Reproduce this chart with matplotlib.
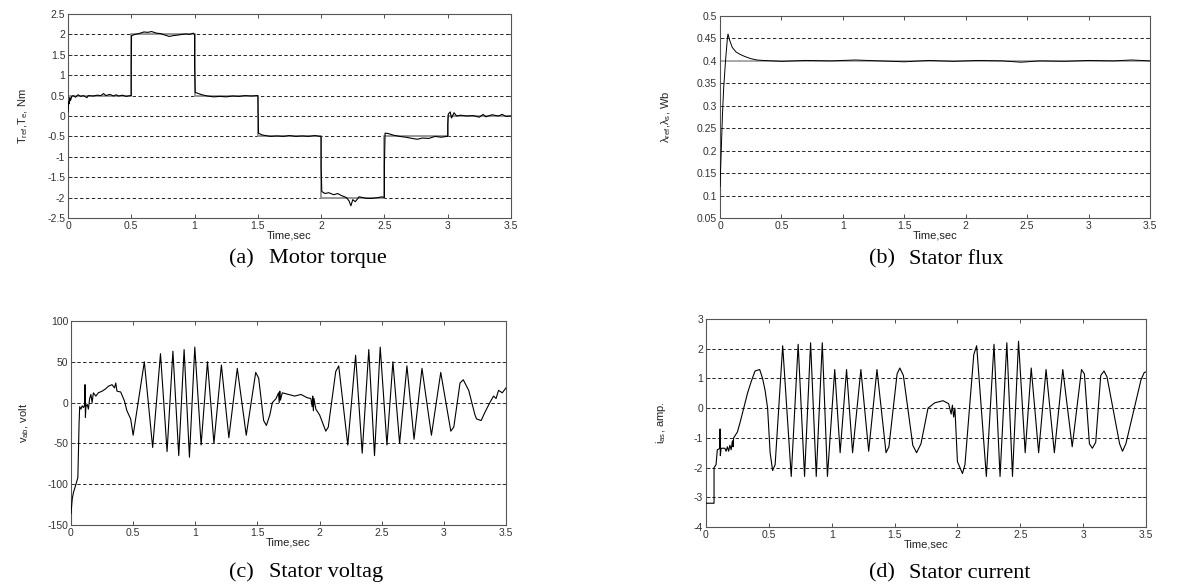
import numpy as np
import matplotlib.pyplot as plt
import matplotlib.transforms as mtransforms

plt.rcParams['font.family'] = ['Liberation Sans', 'DejaVu Sans']
plt.rcParams['mathtext.default'] = 'regular'

# (a) motor torque
t_tref = [0, 0.5, 0.5, 1.0, 1.0, 1.5, 1.5, 2.0, 2.0, 2.5, 2.5, 3.0, 3.0, 3.5]
tref = [0.5, 0.5, 2.0, 2.0, 0.5, 0.5, -0.5, -0.5, -2.0, -2.0, -0.5, -0.5, 0.0, 0.0]
t_te = [0, 0.005, 0.01, 0.015, 0.02, 0.03, 0.04, 0.06, 0.08, 0.1, 0.12, 0.15, 0.16, 0.2,
        0.23, 0.26, 0.28, 0.3, 0.33, 0.36, 0.38, 0.4, 0.43, 0.46, 0.49, 0.5, 0.5, 0.502,
        0.53, 0.56, 0.6, 0.63, 0.66, 0.7, 0.73, 0.76, 0.8, 0.83, 0.86, 0.9, 0.93, 0.96,
        0.99, 1.0, 1.0, 1.005, 1.03, 1.06, 1.1, 1.15, 1.2, 1.25, 1.3, 1.35, 1.4, 1.45,
        1.49, 1.5, 1.505, 1.53, 1.56, 1.6, 1.65, 1.7, 1.75, 1.8, 1.85, 1.9, 1.95, 1.99,
        2.0, 2.0, 2.005, 2.03, 2.06, 2.1, 2.13, 2.16, 2.2, 2.22, 2.235, 2.25, 2.27, 2.3,
        2.33, 2.36, 2.4, 2.45, 2.48, 2.5, 2.5, 2.505, 2.53, 2.57, 2.62, 2.67, 2.72, 2.76,
        2.8, 2.85, 2.9, 2.95, 2.99, 3.0, 3.0, 3.005, 3.02, 3.03, 3.05, 3.07, 3.1, 3.15,
        3.2, 3.25, 3.28, 3.3, 3.35, 3.4, 3.43, 3.46, 3.5]
te = [0.1, 0.35, 0.3, 0.45, 0.38, 0.48, 0.5, 0.46, 0.52, 0.48, 0.5, 0.45, 0.5, 0.49,
      0.51, 0.5, 0.55, 0.5, 0.53, 0.49, 0.52, 0.49, 0.51, 0.48, 0.5, 0.5, 1.25, 1.97,
      2.0, 2.02, 2.06, 2.05, 2.07, 2.03, 2.02, 1.99, 1.95, 1.97, 1.98, 2.0, 2.01, 2.0,
      2.03, 2.0, 1.25, 0.58, 0.55, 0.52, 0.49, 0.47, 0.48, 0.47, 0.49, 0.48, 0.5, 0.49,
      0.5, 0.5, -0.42, -0.46, -0.48, -0.5, -0.49, -0.5, -0.48, -0.5, -0.49, -0.5, -0.48, -0.5,
      -0.5, -1.25, -1.85, -1.9, -1.88, -1.93, -1.9, -1.95, -2.0, -2.08, -2.2, -2.05, -2.1, -1.98,
      -2.0, -2.02, -2.02, -2.0, -1.98, -2.0, -1.2, -0.42, -0.43, -0.47, -0.5, -0.52, -0.55, -0.57,
      -0.54, -0.55, -0.5, -0.52, -0.5, -0.5, -0.2, 0.05, 0.1, -0.05, 0.08, 0.0, 0.02, 0.0,
      0.01, -0.03, 0.04, -0.02, 0.03, 0.0, 0.04, -0.01, 0.0]

# (b) stator flux
t_lref = [0, 3.5]
lref = [0.4, 0.4]
t_ls = [0, 0.01, 0.02, 0.03, 0.045, 0.06, 0.065, 0.08, 0.1, 0.13, 0.16, 0.2, 0.25, 0.3,
        0.35, 0.5, 0.7, 0.9, 1.1, 1.3, 1.5, 1.7, 1.9, 2.1, 2.3, 2.45, 2.6, 2.8, 3.0, 3.2,
        3.35, 3.5]
ls = [0.12, 0.2, 0.28, 0.34, 0.4, 0.45, 0.46, 0.445, 0.43, 0.42, 0.415, 0.41, 0.405, 0.402,
      0.401, 0.399, 0.401, 0.4, 0.402, 0.4, 0.398, 0.401, 0.399, 0.401, 0.4, 0.397, 0.4, 0.399,
      0.401, 0.4, 0.402, 0.4]

# (c) stator voltage
t_vab = [0, 0.01, 0.02, 0.04, 0.055, 0.06, 0.065, 0.07, 0.08, 0.09, 0.1, 0.11, 0.113, 0.116,
         0.12, 0.13, 0.14, 0.15, 0.16, 0.17, 0.18, 0.2, 0.22, 0.25, 0.28, 0.3, 0.33, 0.35,
         0.36, 0.37, 0.4, 0.43, 0.45, 0.48, 0.5, 0.59, 0.657, 0.72, 0.773, 0.82, 0.867, 0.91,
         0.953, 0.996, 1.047, 1.098, 1.15, 1.21, 1.27, 1.338, 1.41, 1.486, 1.51, 1.55, 1.572,
         1.6, 1.62, 1.65, 1.67, 1.675, 1.68, 1.685, 1.7, 1.75, 1.8, 1.85, 1.9, 1.93, 1.94,
         1.945, 1.95, 1.955, 1.97, 2.0, 2.05, 2.07, 2.13, 2.154, 2.227, 2.29, 2.343, 2.396,
         2.442, 2.488, 2.542, 2.59, 2.644, 2.703, 2.76, 2.824, 2.9, 2.975, 3.056, 3.08, 3.13,
         3.156, 3.2, 3.25, 3.263, 3.3, 3.33, 3.37, 3.4, 3.42, 3.44, 3.47, 3.5]
vab = [-136, -118, -110, -100, -92, -60, -25, -5, -8, -4, -6, -3, 22, -18,
       -5, -2, -8, 5, 10, 0, 12, 8, 12, 14, 17, 20, 22, 18,
       24, 14, 13, 2, -10, -20, -40, 50, -55, 60, -60, 63, -65, 65,
       -67, 68, -52, 50, -50, 46, -43, 42, -40, 37, 30, -22, -28,
       -15, 0, 5, 12, 0, 14, 3, 12, 10, 8, 10, 6, 5, -5,
       8, -10, 5, -8, -15, -35, -30, 38, 45, -52, 58, -62, 65,
       -65, 68, -52, 50, -50, 45, -45, 42, -40, 37, -35, -30, 24,
       28, 15, -15, -20, -22, -12, 0, 8, 5, 15, 12, 18]

# (d) stator current
t_ias = [0, 0.064, 0.064, 0.08, 0.09, 0.1, 0.11, 0.112, 0.114, 0.12, 0.15, 0.16, 0.17, 0.18,
         0.19, 0.2, 0.21, 0.215, 0.22, 0.25, 0.27, 0.3, 0.33, 0.36, 0.39, 0.427, 0.45, 0.47,
         0.49, 0.51, 0.53, 0.55, 0.61, 0.678, 0.733, 0.784, 0.832, 0.877, 0.925, 0.966, 1.024,
         1.067, 1.118, 1.166, 1.232, 1.294, 1.36, 1.432, 1.455, 1.52, 1.542, 1.57, 1.645, 1.675,
         1.71, 1.766, 1.82, 1.886, 1.93, 1.95, 1.96, 1.97, 1.98, 2.0, 2.04, 2.06, 2.13, 2.153,
         2.23, 2.291, 2.339, 2.393, 2.438, 2.486, 2.539, 2.587, 2.646, 2.705, 2.771, 2.838,
         2.913, 2.987, 3.01, 3.05, 3.073, 3.1, 3.14, 3.166, 3.19, 3.29, 3.313, 3.34, 3.46,
         3.486, 3.5]
ias = [-3.2, -3.2, -2.0, -1.9, -1.4, -1.38, -1.35, -0.7, -1.6, -1.35, -1.35, -1.45, -1.3, -1.45,
       -1.25, -1.4, -1.1, -1.3, -1.0, -0.8, -0.5, 0.0, 0.5, 0.9, 1.25, 1.3, 1.0, 0.6,
       0.0, -1.5, -2.1, -1.9, 2.1, -2.3, 2.15, -2.3, 2.2, -2.3, 2.2, -2.3, 1.3,
       -1.5, 1.3, -1.5, 1.3, -1.45, 1.3, -1.5, -1.3, 1.15, 1.35, 1.1, -1.25, -1.5,
       -1.2, 0.0, 0.18, 0.25, 0.15, -0.2, 0.1, -0.3, 0.0, -1.8, -2.2, -1.9, 1.8, 2.1,
       -2.3, 2.15, -2.3, 2.2, -2.3, 2.25, -1.5, 1.35, -1.5, 1.3, -1.5, 1.3,
       -1.3, 1.3, 1.15, -1.2, -1.35, -1.15, 1.1, 1.25, 1.05, -1.2, -1.45, -1.2, 0.95,
       1.2, 1.22]

xticks = [0, 0.5, 1, 1.5, 2, 2.5, 3, 3.5]
xtick_labels = ['0', '0.5', '1', '1.5', '2', '2.5', '3', '3.5']

fig = plt.figure(figsize=(11.92, 5.87), dpi=100)
W, H = 1192.0, 587.0


def axes_px(x0, y0, x1, y1):
    return fig.add_axes([x0 / W, 1 - y1 / H, (x1 - x0) / W, (y1 - y0) / H])


def style(ax, ylim, yticks, ylabel, label_x):
    ax.set_xlim(0, 3.5)
    ax.set_ylim(*ylim)
    ax.set_xticks(xticks)
    ax.set_xticklabels(xtick_labels)
    ax.set_yticks(yticks)
    ax.set_yticklabels([('%g' % v) for v in yticks])
    ax.tick_params(direction='in', top=True, right=True, length=3, width=0.6,
                   labelsize=7.5, colors='#333333', pad=2)
    for s in ax.spines.values():
        s.set_color('#555555')
        s.set_linewidth(0.8)
    for v in yticks[1:-1]:
        ax.axhline(v, color='black', lw=0.6, ls=(0, (4, 3)), zorder=1)
    ax.set_xlabel('Time,sec', fontsize=8, color='#222222', labelpad=0)
    ax.set_ylabel(ylabel, fontsize=8, color='#222222')
    tr = mtransforms.blended_transform_factory(fig.transFigure, ax.transAxes)
    ax.yaxis.set_label_coords(label_x / W, 0.5, transform=tr)


ax_a = axes_px(68, 14, 511, 218)
ax_b = axes_px(720, 16, 1150, 218)
ax_c = axes_px(71, 321, 506, 525)
ax_d = axes_px(706, 319, 1146, 527)

ax_a.plot(t_tref, tref, color='#999999', lw=1.4, zorder=2)
ax_a.plot(t_te, te, color='black', lw=0.8, zorder=3)
style(ax_a, (-2.5, 2.5), [-2.5, -2, -1.5, -1, -0.5, 0, 0.5, 1, 1.5, 2, 2.5],
      'T$_{ref}$,T$_{e}$, Nm', 30)

ax_b.plot(t_lref, lref, color='#aaaaaa', lw=1.4, zorder=2)
ax_b.plot(t_ls, ls, color='black', lw=0.7, zorder=3)
style(ax_b, (0.05, 0.5), [0.05, 0.1, 0.15, 0.2, 0.25, 0.3, 0.35, 0.4, 0.45, 0.5],
      '$\\lambda_{ref}$,$\\lambda_{s}$, Wb', 673)

ax_c.plot(t_vab, vab, color='black', lw=0.8, zorder=3)
style(ax_c, (-150, 100), [-150, -100, -50, 0, 50, 100], 'v$_{ab}$, volt', 31)

ax_d.plot(t_ias, ias, color='black', lw=0.8, zorder=3)
style(ax_d, (-4, 3), [-4, -3, -2, -1, 0, 1, 2, 3], 'i$_{as}$, amp.', 668)

captions = [('(a)', 'Motor torque', 229, 259), ('(b)', 'Stator flux', 869, 259),
            ('(c)', 'Stator voltag', 229, 573), ('(d)', 'Stator current', 869, 573)]
for lab, txt, x, y in captions:
    fig.text(x / W, 1 - y / H, lab, fontsize=16, family='Liberation Serif', va='center')
    fig.text((x + 40) / W, 1 - y / H, txt, fontsize=16, family='Liberation Serif', va='center')

fig.savefig('out.png', dpi=100)
